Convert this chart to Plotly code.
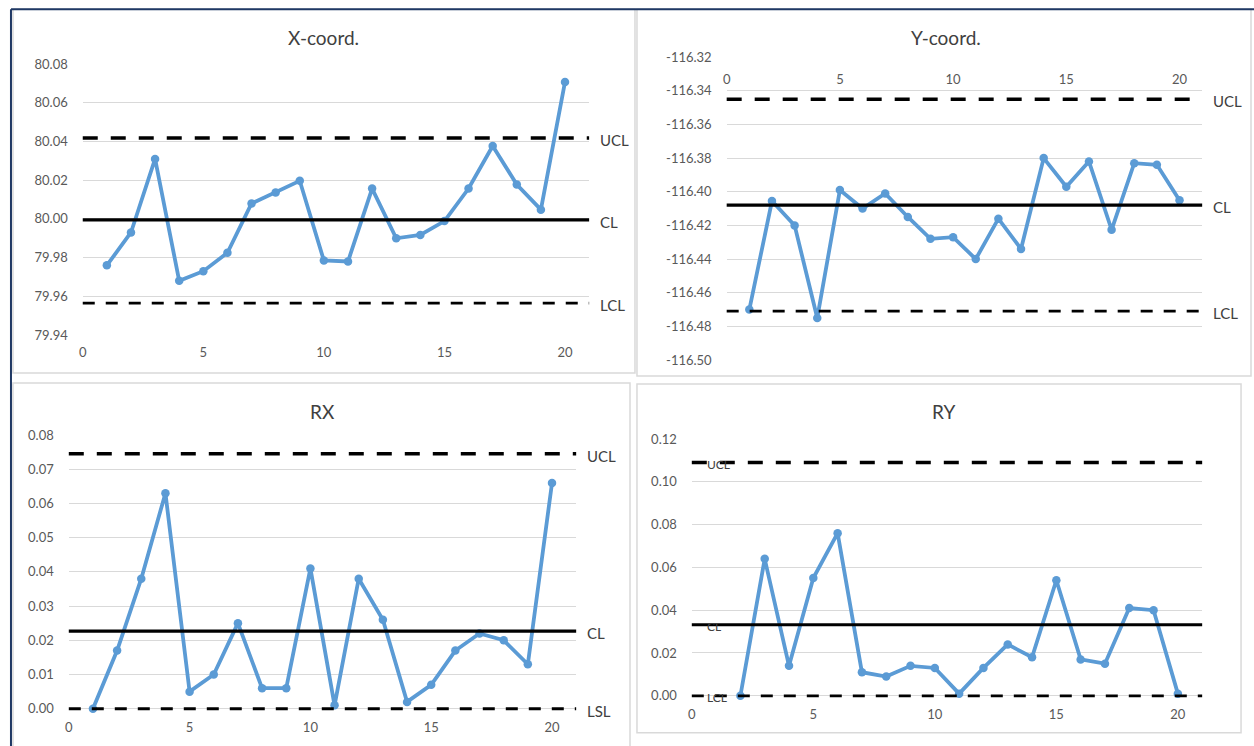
import plotly.graph_objects as go

# ---------------- data ----------------
samples = list(range(1, 21))
x_coord = [79.976, 79.993, 80.031, 79.968, 79.973, 79.9825, 80.008, 80.0136, 80.0197, 79.9785,
           79.978, 80.0157, 79.990, 79.9917, 79.9989, 80.0157, 80.0377, 80.0178, 80.0048, 80.0708]
x_limits = {"UCL": 80.0418, "CL": 79.9995, "LCL": 79.9565}

y_coord = [-116.470, -116.4055, -116.420, -116.475, -116.399, -116.410, -116.401, -116.415, -116.428, -116.427,
           -116.440, -116.416, -116.434, -116.380, -116.397, -116.382, -116.4226, -116.383, -116.384, -116.405]
y_limits = {"UCL": -116.345, "CL": -116.408, "LCL": -116.471}

rx_samples = list(range(1, 21))
rx = [0.000, 0.017, 0.038, 0.063, 0.005, 0.010, 0.025, 0.006, 0.006, 0.041,
      0.001, 0.038, 0.026, 0.002, 0.007, 0.017, 0.022, 0.020, 0.013, 0.066]
rx_limits = {"UCL": 0.0745, "CL": 0.0227, "LSL": 0.0}

ry_samples = list(range(2, 21))
ry = [0.000, 0.064, 0.014, 0.055, 0.076, 0.011, 0.009, 0.014, 0.013,
      0.001, 0.013, 0.024, 0.018, 0.054, 0.017, 0.015, 0.041, 0.040, 0.001]
ry_limits = {"UCL": 0.109, "CL": 0.0332, "LCL": 0.0}

titles = ["X-coord.", "Y-coord.", "RX", "RY"]
x_ticks = [0, 5, 10, 15, 20]
x_range = [0, 21]
# lower bounds of RX / RY sit a hair below 0 so the 0-level limit line is not cut by the plot edge
y_ranges = [[79.94, 80.08], [-116.50, -116.32], [-0.0012, 0.08], [-0.0019, 0.12]]
y_tickvals = [
    [79.94, 79.96, 79.98, 80.00, 80.02, 80.04, 80.06, 80.08],
    [-116.50, -116.48, -116.46, -116.44, -116.42, -116.40, -116.38, -116.36, -116.34, -116.32],
    [0.00, 0.01, 0.02, 0.03, 0.04, 0.05, 0.06, 0.07, 0.08],
    [0.00, 0.02, 0.04, 0.06, 0.08, 0.10, 0.12],
]

# ---------------- layout helpers ----------------
W, H = 1254, 746
def ty(y):
    # vertical pixel of the target picture -> figure pixel (compensates the capture's vertical padding)
    return y * 762 / 746 - 8
def px_x(a, b):
    return [a / W, b / W]
def px_y(top, bottom):
    return [1 - ty(bottom) / H, 1 - ty(top) / H]
def py(y):
    return 1 - ty(y) / H

domains = [
    (px_x(79, 587), px_y(64, 335)),
    (px_x(725, 1202), px_y(57, 360)),
    (px_x(65, 574), px_y(435, 713)),
    (px_x(690, 1202), px_y(439, 700)),
]
xlabel_standoff = [8, 13, 5, 5]

FONT = "Lato, Calibri, Carlito, sans-serif"
BLUE = "#5B9BD5"
GRID = "#D9D9D9"
TICK = "#595959"
LBL = "#404040"

fig = go.Figure()

series = [(samples, x_coord, x_limits), (samples, y_coord, y_limits),
          (rx_samples, rx, rx_limits), (ry_samples, ry, ry_limits)]

for i, (xs, ys, lims) in enumerate(series):
    n = "" if i == 0 else str(i + 1)
    xa, ya = "x" + n, "y" + n
    xd, yd = domains[i]
    fig.add_trace(go.Scatter(x=xs, y=ys, xaxis=xa, yaxis=ya, mode="lines+markers",
                             line=dict(color=BLUE, width=3.8),
                             marker=dict(color=BLUE, size=8.5),
                             cliponaxis=False, showlegend=False, hoverinfo="x+y"))
    fig.layout["xaxis" + n] = dict(domain=xd, anchor=ya, range=x_range, tickvals=x_ticks,
                                   showgrid=False, zeroline=False, showline=False,
                                   tickfont=dict(family=FONT, size=13, color=TICK),
                                   ticks="", ticklabelstandoff=xlabel_standoff[i])
    fig.layout["yaxis" + n] = dict(domain=yd, anchor=xa, range=y_ranges[i],
                                   tickvals=y_tickvals[i],
                                   ticktext=[f"{v:.2f}" for v in y_tickvals[i]],
                                   showgrid=True, gridcolor=GRID, gridwidth=1,
                                   zeroline=False, showline=False,
                                   tickfont=dict(family=FONT, size=13, color=TICK),
                                   ticks="", ticklabelstandoff=14)
    for name, val in lims.items():
        if name == "CL":
            dash, width = "solid", 3.2
        elif name == "UCL":
            dash, width = "15px,13px", 3.5
        else:
            dash, width = "12px,11px", 2.8
        fig.add_shape(type="line", xref=xa + " domain", yref=ya, x0=0, x1=1, y0=val, y1=val,
                      line=dict(color="black", width=width, dash=dash), layer="above")
        if i == 3:
            fig.add_annotation(xref=xa + " domain", yref=ya, x=0.025, y=val, text=name,
                               showarrow=False, xanchor="left", yanchor="middle", yshift=-2,
                               font=dict(family=FONT, size=12, color=LBL))
        else:
            fig.add_annotation(xref=xa + " domain", yref=ya, x=1, y=val, text=name,
                               showarrow=False, xanchor="left", yanchor="middle", xshift=9, yshift=-2,
                               font=dict(family=FONT, size=15, color=LBL))
    fig.add_annotation(xref="paper", yref="paper",
                       x=[321, 945, 320, 943][i] / W, y=py([37, 37, 412, 412][i]),
                       text=titles[i], showarrow=False, xanchor="center", yanchor="middle",
                       font=dict(family=FONT, size=19, color=LBL))

# Y-coord x-axis labels sit just under the top gridline
fig.layout["xaxis2"].update(anchor="free", position=py(57), side="bottom")

# panel borders
boxes = [(9, 9, 633, 373), (635, 9, 1251, 376), (9, 383, 628, 760), (635, 384, 1241, 733)]
for (x0, y0, x1, y1) in boxes:
    fig.add_shape(type="rect", xref="paper", yref="paper", x0=x0 / W, x1=x1 / W,
                  y0=py(y1), y1=py(y0), line=dict(color="#D9D9D9", width=1.5), layer="below")
# outer navy frame lines (top & left)
top_line = 1 - 1.2 / H
fig.add_shape(type="line", xref="paper", yref="paper", x0=7 / W, x1=1, y0=top_line, y1=top_line,
              line=dict(color="#1F3864", width=2))
fig.add_shape(type="line", xref="paper", yref="paper", x0=7 / W, x1=7 / W, y0=-0.02, y1=top_line,
              line=dict(color="#1F3864", width=2))

fig.update_layout(margin=dict(l=0, r=0, t=0, b=0), autosize=True,
                  paper_bgcolor="white", plot_bgcolor="white", showlegend=False)

# the plot div fills the browser viewport exactly, pinned to the top-left corner
fig.write_html("out.html", config={"displayModeBar": False},
               default_width="100vw",
               default_height="100vh; position:absolute; top:0; left:0")
